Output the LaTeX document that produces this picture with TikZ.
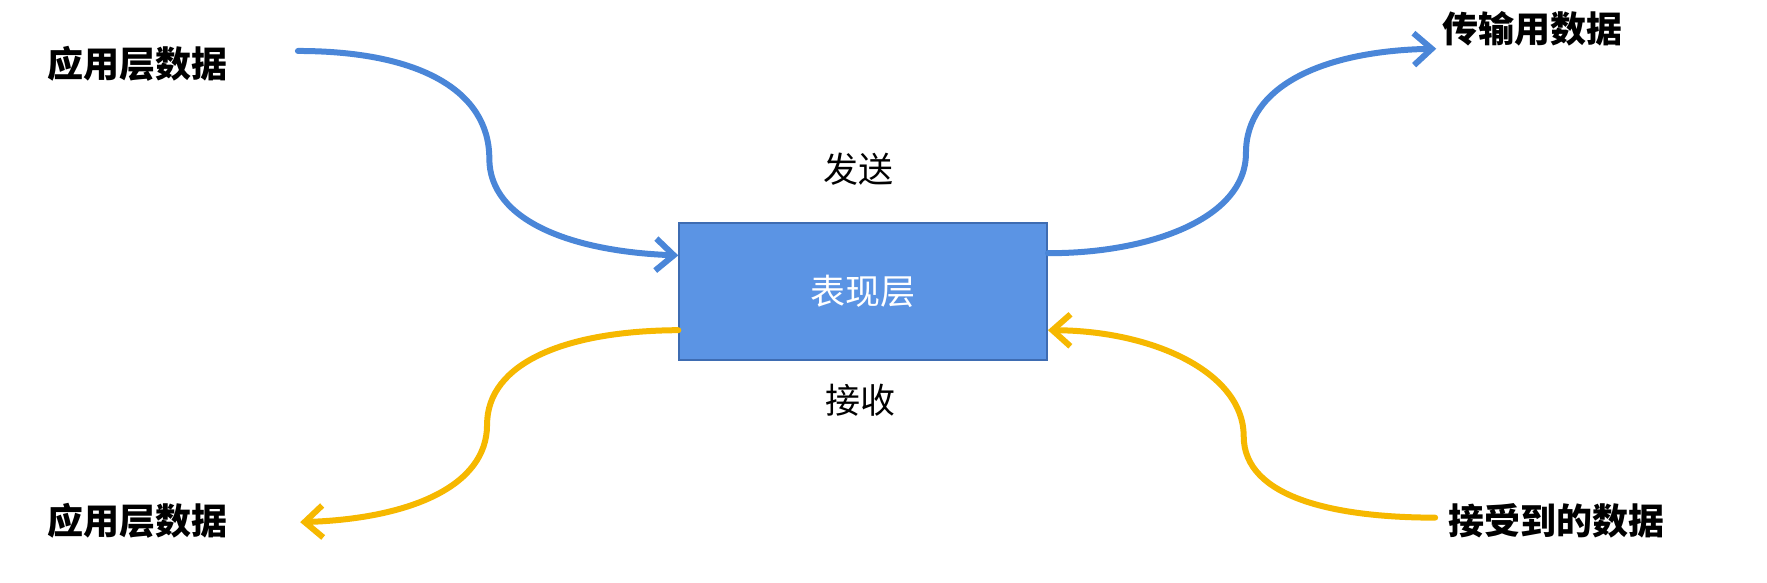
\documentclass[tikz,border=0pt]{standalone}
\usepackage{fontspec}
\setmainfont{Noto Sans CJK SC}
\usetikzlibrary{arrows.meta}
\definecolor{lineblue}{RGB}{74,134,216}
\definecolor{boxfill}{RGB}{91,148,228}
\definecolor{boxdraw}{RGB}{62,108,178}
\definecolor{gold}{RGB}{246,184,0}
\begin{document}
\begin{tikzpicture}[x=1.133pt,y=-1.133pt,
  flow/.style={line width=6pt, line cap=round, -{Straight Barb[length=18pt,width=32pt,line width=6pt]}},
  bluef/.style={flow, draw=lineblue},
  goldf/.style={flow, draw=gold},
  endlabel/.style={font=\fontsize{36}{42}\selectfont\bfseries, text=black, inner sep=0pt},
  midlabel/.style={font=\fontsize{35}{42}\selectfont, text=black, inner sep=0pt},
  layerbox/.style={draw=boxdraw, line width=1.5pt, fill=boxfill, minimum width=325*1.133pt, minimum height=121*1.133pt, font=\fontsize{35}{42}\selectfont, text=white}]
\useasboundingbox (0,0) rectangle (1560,514);
\node[layerbox] (box) at (762,257.5) {表现层};
\node[endlabel] (appin) at (121,56) {应用层数据};
\node[endlabel] (trans) at (1353,25) {传输用数据};
\node[endlabel] (appout) at (121,460) {应用层数据};
\node[endlabel] (recv) at (1374,460) {接受到的数据};
\node[midlabel] (send) at (758,149) {发送};
\node[midlabel] (rcv) at (760,353) {接收};
% connector endpoints
\coordinate (a1) at (263,45);
\coordinate (b1) at ([yshift=32*1.133pt]box.west);
\coordinate (a2) at ([yshift=34*1.133pt]box.east);
\coordinate (b2) at (1268,43);
\coordinate (a3) at ([yshift=-34*1.133pt]box.west);
\coordinate (b3) at (265,461);
\coordinate (a4) at (1267,457);
\coordinate (b4) at ([yshift=-34*1.133pt]box.east);
\draw[bluef] (a1) .. controls (370,45) and (432,80) .. (432,140)
   .. controls (432,195) and (505,222) .. (b1);
\draw[bluef] (a2) .. controls (1010,224) and (1100,195) .. (1100,135)
   .. controls (1100,75) and (1170,45) .. (b2);
\draw[goldf] (a3) .. controls (500,292) and (430,320) .. (430,375)
   .. controls (430,430) and (360,458) .. (b3);
\draw[goldf] (a4) .. controls (1180,457) and (1098,440) .. (1098,385)
   .. controls (1098,330) and (1020,292) .. (b4);
\end{tikzpicture}
\end{document}
